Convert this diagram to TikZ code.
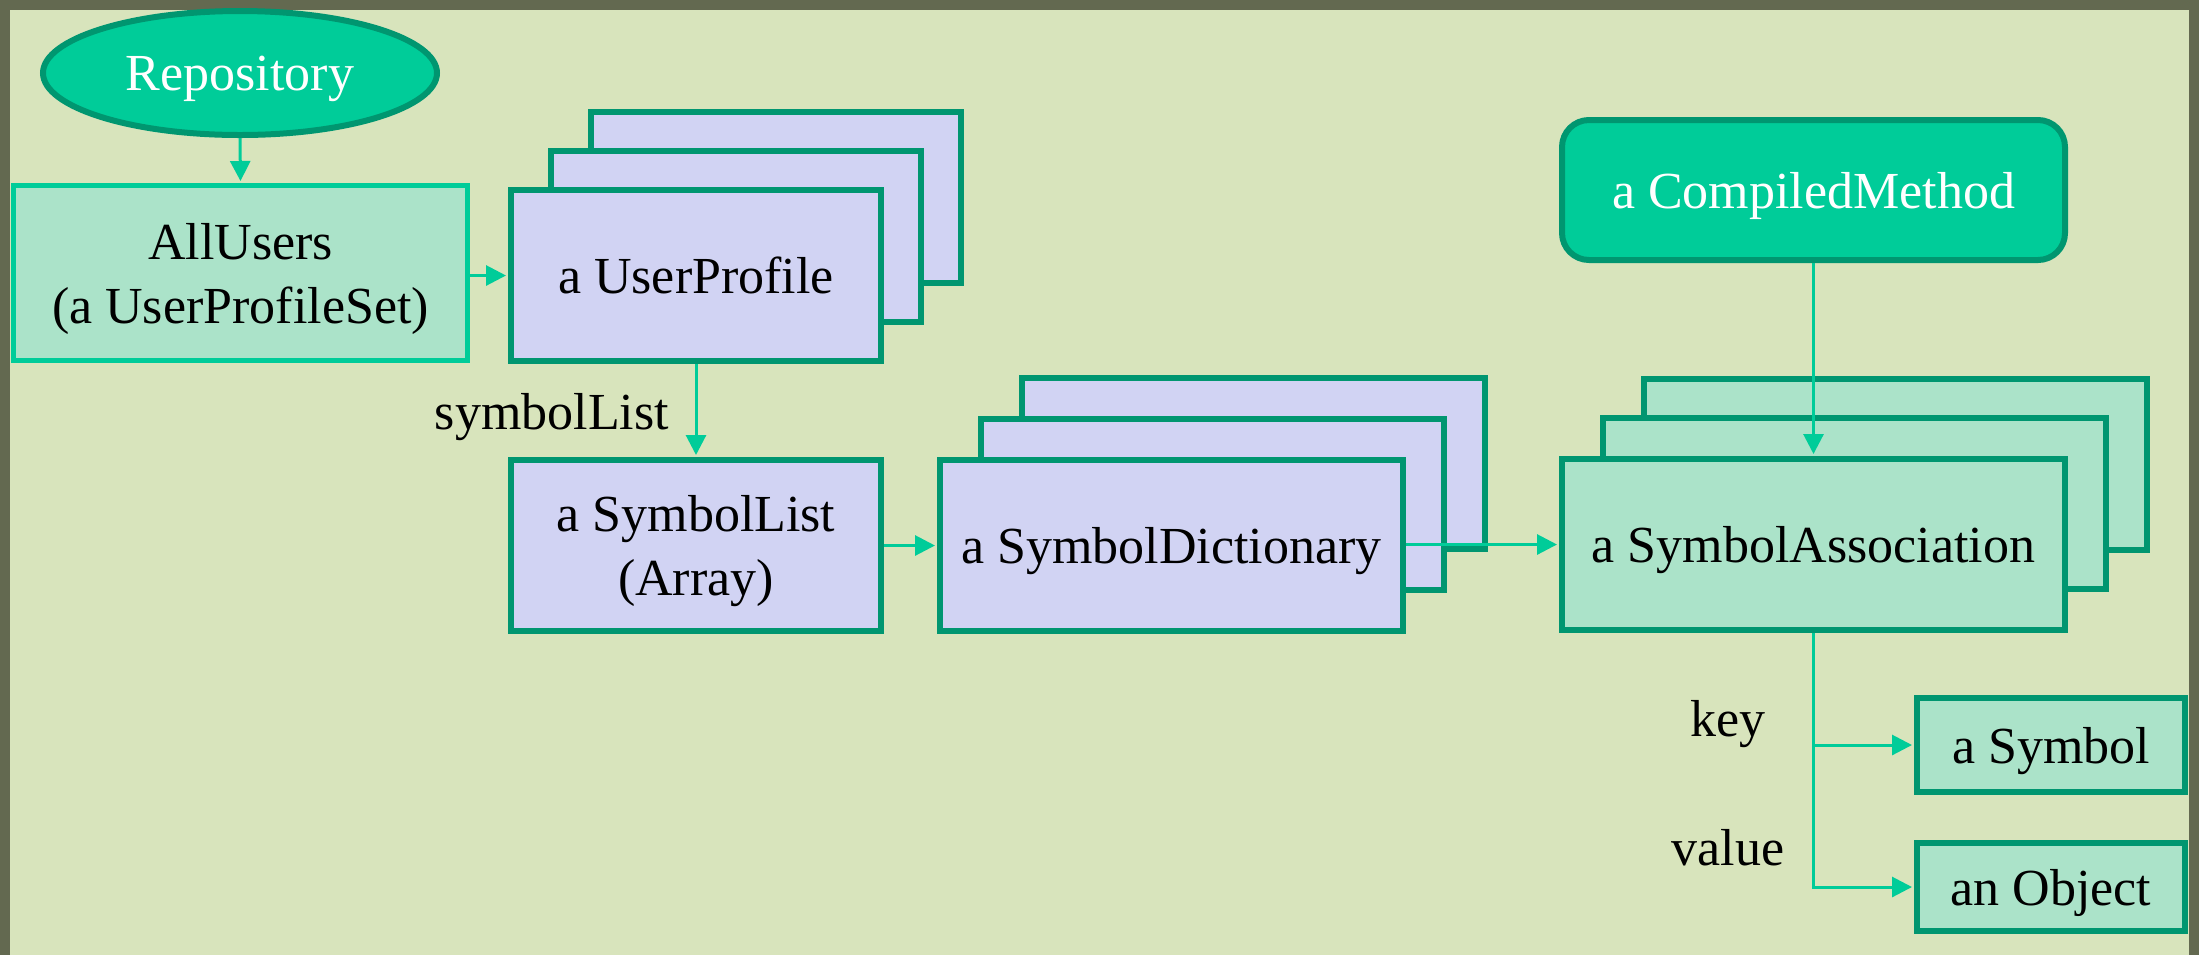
\documentclass[tikz,border=0pt]{standalone}
\usepackage{fontspec}
\setmainfont{Liberation Serif}
\usetikzlibrary{arrows.meta,shapes.geometric}
\definecolor{framec}{RGB}{99,105,80}
\definecolor{bgc}{RGB}{216,228,188}
\definecolor{brightg}{RGB}{0,204,153}
\definecolor{darkg}{RGB}{0,150,112}
\definecolor{mint}{RGB}{171,227,201}
\definecolor{lav}{RGB}{209,211,243}
\begin{document}
\begin{tikzpicture}[x=0.5pt,y=-0.5pt,
  every node/.style={font=\fontsize{26}{32}\selectfont, inner sep=0pt, align=center},
  tbox/.style={text depth=0pt},
  ell/.style={tbox, ellipse, fill=brightg, draw=darkg, line width=3pt, text=white,
    minimum width=197pt, minimum height=62pt},
  abox/.style={tbox, rectangle, fill=mint, draw=brightg, line width=2.5pt,
    minimum width=227pt, minimum height=87.5pt},
  lbox/.style={tbox, rectangle, fill=lav, draw=darkg, line width=3pt,
    minimum width=185pt, minimum height=85.5pt},
  mbox/.style={tbox, rectangle, fill=mint, draw=darkg, line width=3pt,
    minimum width=251.5pt, minimum height=85.5pt},
  cmbox/.style={tbox, rectangle, rounded corners=13.5pt, fill=brightg, draw=darkg,
    line width=3pt, text=white, minimum width=251.5pt, minimum height=70pt},
  conn/.style={draw=brightg, line width=1.5pt, shorten >=1pt,
    -{Triangle[length=10pt,width=10pt]}},
  lbl/.style={anchor=base}
]
\useasboundingbox (0,0) rectangle (2199,955);
\fill[framec] (0,0) rectangle (2199,955);
\fill[bgc] (10,10) rectangle (2189,955);

\node[ell] (rep) at (240,73) {Repository};
\node[abox] (au) at (240.5,273) {AllUsers\\(a UserProfileSet)};

\node[lbox] (up3) at (776,197.5) {};
\node[lbox] (up2) at (736,236.5) {};
\node[lbox] (up) at (696,275.5) {a UserProfile};

\node[lbox] (sl) at (696,545.5) {a SymbolList\\(Array)};

\node[lbox, minimum width=231.5pt] (sd3) at (1253.5,463.5) {};
\node[lbox, minimum width=231.5pt] (sd2) at (1212.5,504.5) {};
\node[lbox, minimum width=231.5pt] (sd) at (1171.5,545.5) {a SymbolDictionary};

\node[cmbox] (cm) at (1813.5,190) {a CompiledMethod};

\node[mbox] (sa3) at (1895,464) {};
\node[mbox] (sa2) at (1854.5,503.5) {};
\node[mbox] (sa) at (1813.5,544.5) {a SymbolAssociation};

\node[mbox, minimum width=134pt, minimum height=47pt] (sym) at (2051,745) {a Symbol};
\node[mbox, minimum width=134pt, minimum height=44pt] (obj) at (2051,887) {an Object};

\node[lbl] (lsl) at (552,429) {symbolList};
\node[lbl] (lkey) at (1728,736) {key};
\node[lbl] (lval) at (1728,865) {value};

\draw[conn] (rep.south) -- (au.north);
\draw[conn] (au.east |- up.west) -- (up.west);
\draw[conn] (up.south) -- (sl.north);
\draw[conn] (sl.east |- sd.west) -- (sd.west);
\draw[conn] (sd.east |- sa.west) -- (sa.west);
\draw[conn] (cm.south) -- (sa.north);
\draw[conn] (sa.south) |- (sym.west);
\draw[conn] (sa.south) |- (obj.west);
\end{tikzpicture}
\end{document}
